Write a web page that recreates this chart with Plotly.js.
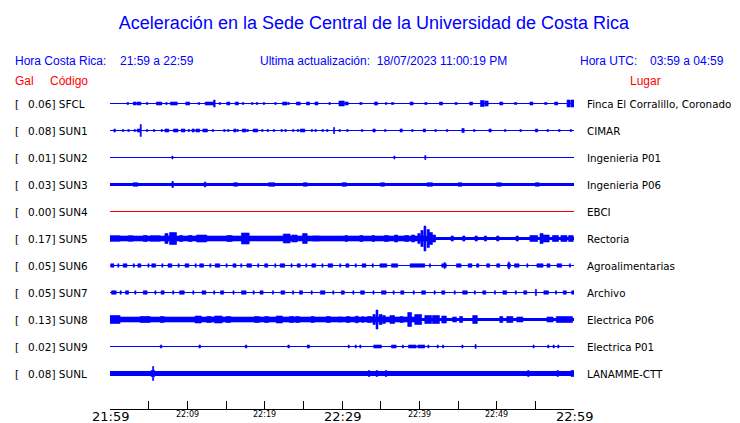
<!DOCTYPE html>
<html><head><meta charset="utf-8">
<script src="https://cdn.plot.ly/plotly-3.0.1.min.js"></script>
<style>html,body{margin:0;padding:0;background:#fff}#chart{width:740px;height:423px}</style>
</head><body><div id="chart"></div>
<script>
// ---------- data ----------
const codes  = ['SFCL','SUN1','SUN2','SUN3','SUN4','SUN5','SUN6','SUN7','SUN8','SUN9','SUNL'];
const gal    = ['0.06','0.08','0.01','0.03','0.00','0.17','0.05','0.05','0.13','0.02','0.08'];
const places = ['Finca El Corralillo, Coronado','CIMAR','Ingenieria P01','Ingenieria P06','EBCI','Rectoria',
                'Agroalimentarias','Archivo','Electrica P06','Electrica P01','LANAMME-CTT'];
// background noise half-amplitude of each trace (display units)
const noise  = [0.5,0.5,0.5,1.5,0.5,1.5,0.5,0.5,1.5,0.5,2.5];
// bursts: [minute after 21:59, half-amplitude, duration in minutes]
const bSFCL = [[2.2,1,0.2],[3.0,1.5,0.4],[3.5,1.5,0.5],[4.7,1,0.2],[6.0,1.5,0.7],[7.2,1,0.2],[7.8,1.5,0.9],[9.8,1.5,0.5],[11.4,1,0.2],[12.3,1.5,0.6],[12.9,1.5,0.5],[13.4,3.5,0.2],[14.1,1,0.2],[15.1,1.5,0.4],[16.2,1.5,0.4],[17.1,1,0.2],[18.3,1,0.2],[18.9,1,0.2],[19.8,1,0.2],[21.3,1,0.2],[22.3,1.5,0.6],[23.0,1,0.2],[24.1,1.5,0.5],[25.4,1.5,0.4],[26.5,1.5,0.4],[28.3,1,0.2],[29.6,2.5,0.7],[30.4,1.5,0.4],[32.3,1,0.3],[34.2,1.5,0.4],[35.6,1,0.2],[36.4,1,0.3],[38.8,1.5,0.4],[40.7,1,0.3],[42.6,1.5,0.4],[44.6,1,0.3],[46.5,1.5,0.4],[47.9,3,0.5],[48.5,2.5,0.4],[50.4,1.5,0.4],[52.3,1,0.3],[54.3,1.5,0.4],[56.2,1,0.3],[57.5,1.5,0.4],[59.1,3.5,0.4],[59.6,3.5,0.4]];
const bSUN1 = [[0.5,1.5,0.2],[1.6,1,0.2],[2.3,1,0.2],[3.1,1,0.2],[3.5,1.5,0.4],[3.9,6,0.15],[4.7,1,0.2],[5.6,1,0.2],[6.6,1,0.2],[7.1,1.5,0.5],[8.2,1.5,0.6],[9.2,1.5,0.5],[10.1,1,0.2],[10.6,1.5,0.3],[11.1,1.5,0.5],[12.0,1.5,0.6],[13.2,1,0.2],[14.7,1,0.2],[15.2,1,0.2],[16.0,1.5,0.3],[16.4,1,0.2],[17.1,1.5,0.5],[17.7,1,0.2],[18.5,1.5,0.6],[19.6,1,0.2],[20.3,1,0.2],[21.1,1,0.2],[22.1,1,0.2],[22.6,1,0.2],[23.6,1,0.2],[24.2,1,0.2],[24.6,1.5,0.6],[26.0,1,0.2],[26.5,1,0.2],[27.4,1,0.2],[28.0,1,0.2],[28.9,3,0.15],[29.6,1,0.2],[30.6,1,0.2],[32.5,1,0.2],[34.0,1.5,0.3],[35.5,1,0.2],[37.5,1.5,0.3],[39.0,1,0.2],[40.5,1.5,0.3],[42.0,1,0.2],[43.5,1,0.2],[45.5,2,0.3],[47.0,1,0.2],[49.0,1.5,0.3],[51.0,1,0.2],[53.0,1,0.2],[55.0,1.5,0.3],[56.5,1,0.2],[58.0,1,0.2],[59.5,1,0.2]];
const bSUN2 = [[8.0,1.5,0.15],[36.7,1.5,0.15],[40.7,2,0.15]];
const bSUN3 = [[3.0,1.8,0.6],[8.0,3,0.2],[12.2,2.5,0.2],[16.0,1.8,0.5],[20.5,1.8,0.8],[25.0,1.8,0.5],[30.0,1.8,0.6],[35.0,1.8,0.5],[41.0,1.8,0.7],[45.0,1.8,0.5],[50.0,1.8,0.6],[55.0,1.8,0.5]];
const bSUN4 = [];
const bSUN5 = [[0.0,2.5,42],[0.0,2.7,1.3],[2.3,2.7,0.7],[4.3,3,0.5],[5.2,2.7,1.3],[7.1,5,0.4],[7.7,6,0.9],[9.0,3,0.4],[10.1,3,0.5],[11.2,3.5,1.3],[15.1,3,0.7],[17.0,5.5,1.0],[22.4,4.5,0.9],[23.5,3.5,0.7],[24.9,5,0.6],[26.2,2.5,0.9],[30.4,3,0.3],[32.3,3,0.4],[33.9,3,0.3],[35.5,3,0.5],[36.8,3.5,0.4],[38.1,3,0.5],[39.0,3.5,0.4],[39.8,5,0.3],[40.2,8,0.3],[40.6,12.5,0.25],[41.0,9,0.3],[41.3,6,0.4],[41.7,3.5,0.4],[44.1,2.5,0.3],[45.6,2.5,0.3],[47.2,2.5,0.3],[48.4,2.5,0.3],[50.0,2.5,0.3],[52.5,2.5,0.3],[54.3,3,1.0],[55.6,5,0.4],[56.0,3.5,0.8],[57.2,3,0.8],[58.3,3,0.8],[59.3,3,0.6]];
const bSUN6 = [[0.1,1.7,0.4],[1.0,1.7,0.15],[1.7,1.7,0.5],[3.0,1.7,0.15],[3.6,1.7,0.4],[4.9,1.7,0.15],[5.4,1.7,0.5],[6.7,1.7,0.15],[7.5,1.7,0.5],[8.8,1.7,0.15],[9.7,1.7,0.5],[11.0,1.7,0.15],[11.6,1.7,0.5],[12.9,1.7,0.15],[13.6,1.7,0.6],[15.0,1.7,0.15],[15.9,1.7,0.4],[16.9,1.7,0.15],[17.7,1.7,0.6],[19.1,1.7,0.15],[20.0,1.7,0.4],[21.3,1.7,0.15],[22.0,1.7,0.6],[23.4,1.7,0.15],[24.2,1.7,0.4],[25.3,1.7,0.15],[26.1,1.7,0.5],[27.4,1.7,0.15],[28.2,1.7,0.6],[29.7,1.7,0.15],[30.5,1.7,0.4],[31.7,1.7,0.15],[32.6,1.7,0.5],[33.9,1.7,0.15],[34.9,1.7,0.9],[36.4,1.7,0.8],[38.8,1.7,1.9],[41.3,1.7,0.15],[42.9,1.7,0.6],[43.2,3,0.15],[44.8,1.7,0.6],[46.3,1.7,0.5],[47.4,1.7,0.3],[48.7,1.7,0.4],[50.0,1.7,0.4],[51.4,1.7,0.4],[51.5,3.5,0.15],[52.3,1.7,0.6],[53.9,1.7,0.15],[55.2,1.7,0.8],[56.5,1.7,0.4],[57.8,1.7,0.6],[59.4,1.7,0.15]];
const bSUN7 = [[0.2,1.7,0.6],[1.3,1.7,0.15],[2.0,1.7,0.4],[3.2,1.7,0.15],[4.3,1.7,0.5],[5.8,1.7,0.15],[6.6,1.7,0.4],[8.1,1.7,0.15],[9.0,1.7,0.6],[10.7,1.7,0.15],[11.9,1.7,0.5],[13.4,1.7,0.15],[14.3,1.7,0.4],[15.9,1.7,0.15],[17.0,1.7,0.6],[18.5,1.7,0.15],[19.4,1.7,0.4],[21.0,1.7,0.15],[22.1,1.7,0.5],[23.6,1.7,0.15],[24.5,1.7,0.4],[26.0,1.7,0.15],[27.2,1.7,0.6],[28.8,1.7,0.15],[29.9,1.7,0.4],[31.4,1.7,0.15],[32.4,1.7,0.5],[34.0,1.7,0.15],[35.1,1.7,0.6],[36.6,1.7,0.15],[37.6,1.7,0.4],[39.2,1.7,0.15],[40.3,1.7,0.5],[41.9,1.7,0.15],[42.9,1.7,0.4],[44.5,1.7,0.15],[45.6,1.7,0.6],[47.1,1.7,0.15],[48.2,1.7,0.4],[49.7,1.7,0.15],[50.8,1.7,0.5],[52.4,1.7,0.15],[53.5,1.7,0.4],[55.0,3,0.15],[56.1,1.7,0.6],[57.6,1.7,0.15],[58.6,1.7,0.4],[59.7,1.7,0.3]];
const bSUN8 = [[0.0,2.5,40],[0.0,4,1.3],[3.9,3,1.3],[6.5,3,0.5],[11.0,3.5,0.8],[12.5,3,0.6],[13.5,3.5,1.0],[15.0,3,0.6],[18.7,3,0.6],[20.0,3,0.5],[21.5,3.5,0.8],[23.2,3,0.6],[24.0,3,0.5],[26.0,3,0.4],[28.0,3,0.5],[29.5,2.5,0.4],[30.6,3,0.4],[31.7,3.3,0.4],[32.6,3,0.2],[33.3,3,0.5],[34.0,5,0.3],[34.4,9.5,0.25],[34.8,5,0.4],[35.3,4,0.3],[36.2,4,0.6],[37.5,3,0.4],[38.5,7,0.5],[39.4,5,0.9],[40.7,4,0.9],[41.7,4,0.9],[42.9,3.5,0.6],[44.3,2.5,0.5],[45.2,3,0.4],[46.9,4,0.6],[50.4,3,0.4],[51.3,3,0.8],[52.6,2.5,0.8],[56.5,2.5,0.8],[57.7,3,2.1]];
const bSUN9 = [[6.5,1.5,0.2],[11.5,1.5,0.2],[17.5,1.5,0.2],[23.0,1.5,0.2],[25.5,1.5,0.3],[30.8,1.5,0.15],[31.7,1.5,0.15],[32.3,1.5,0.15],[34.1,1.5,1.0],[36.4,1.5,0.6],[37.8,1.5,0.15],[38.6,1.5,1.0],[39.8,1.5,0.9],[41.1,1.5,0.15],[42.3,1.5,0.15],[43.0,1.5,0.15],[45.5,1.5,0.15],[47.2,2,0.15],[54.7,1.5,0.15],[56.6,1.5,0.15],[57.3,1.5,0.15],[57.9,1.5,0.15]];
const bSUNL = [[5.3,3,0.5],[5.5,7,0.15],[33.4,3,0.2],[34.4,3,0.2],[35.6,3,0.2],[54.0,3,0.2],[57.8,3,0.2],[59.6,3,0.4]];
const bursts = [bSFCL,bSUN1,bSUN2,bSUN3,bSUN4,bSUN5,bSUN6,bSUN7,bSUN8,bSUN9,bSUNL];

const tickMinutes = [0,5,10,15,20,25,30,35,40,45,50,55,60];
const tickLabels  = ['21:59','','22:09','','22:19','','22:29','','22:39','','22:49','','22:59'];

const title   = 'Aceleración en la Sede Central de la Universidad de Costa Rica';
const hdrLocal = ['Hora Costa Rica:', '21:59 a 22:59'];
const hdrUpd   = 'Ultima actualización:  18/07/2023 11:00:19 PM';
const hdrUTC   = ['Hora UTC:', '03:59 a 04:59'];
const colHeads = ['Gal', 'Código', 'Lugar'];

// ---------- layout helpers ----------
const W = 740, H = 423, L = 110, R = 574, T = 90, B = 409;
const SPACING = 27, TOP_ROW = 305.5;        // y units are pixel-sized
const BLUE = '#0000ff', RED = '#ff0000';
const px = x => (x - L) / (R - L);
const py = y => (B - y) / (B - T);

const traces = [];
codes.forEach((c, i) => {
  const off = TOP_ROW - SPACING * i;
  const col = c === 'SUN4' ? RED : BLUE;
  traces.push({x:[0,60], y:[off,off], mode:'lines', hoverinfo:'skip',
    line:{color:col, width:Math.max(1, 2*noise[i])}});
  const xs = [], ys = [];
  bursts[i].forEach(([t,a,d]) => {
    xs.push(t, t+d, t+d, t, t, null);
    ys.push(off-a, off-a, off+a, off+a, off-a, null);
  });
  if (xs.length) traces.push({x:xs, y:ys, mode:'lines', fill:'toself', fillcolor:col,
    hoverinfo:'skip', line:{color:col, width:0.6}});
});

const ann = [];
const txt = (text, x, y, size, color) => ann.push({
  text, x, y, xref:'paper', yref:'paper', showarrow:false, xanchor:'left', yanchor:'middle',
  font:{family:'Liberation Sans, Arial, sans-serif', size, color}});

txt(hdrLocal[0], px(13), py(61), 12, BLUE);
txt(hdrLocal[1], px(118), py(61), 12, BLUE);
txt(hdrUpd, px(258), py(61), 12, BLUE);
txt(hdrUTC[0], px(578), py(61), 12, BLUE);
txt(hdrUTC[1], px(648), py(61), 12, BLUE);
txt(colHeads[0], px(13), py(81), 12, RED);
txt(colHeads[1], px(48), py(81), 12, RED);
txt(colHeads[2], px(628), py(81), 12, RED);

codes.forEach((c, i) => {
  const off = TOP_ROW - SPACING * i;
  const base = {xref:'paper', yref:'y', y:off, showarrow:false, xanchor:'left', yanchor:'middle'};
  ann.push(Object.assign({text:'[', x:px(13), font:{family:'DejaVu Sans', size:10.5, color:'#000'}}, base));
  ann.push(Object.assign({text:gal[i] + '] ' + c, x:px(26), font:{family:'DejaVu Sans', size:10.5, color:'#000'}}, base));
  ann.push(Object.assign({text:places[i], x:px(585), font:{family:'DejaVu Sans', size:10.3, color:'#000'}}, base));
});

tickMinutes.forEach((m, k) => {
  if (!tickLabels[k]) return;
  const big = (m % 30) === 0;
  ann.push({text:tickLabels[k], x:m, y:py(big ? 416 : 414.5), xref:'x', yref:'paper', showarrow:false,
    xanchor:'center', yanchor:'middle', font:{family:'DejaVu Sans', size: big ? 13 : 8, color:'#000'}});
});

const layout = {
  width:W, height:H, margin:{l:L, r:W-R, t:T, b:H-B, pad:0},
  paper_bgcolor:'#fff', plot_bgcolor:'#fff', showlegend:false,
  title:{text:title, x:374/W, xref:'container', xanchor:'center', y:1-23/H, yref:'container', yanchor:'middle',
    font:{family:'Liberation Sans, Arial, sans-serif', size:18, color:BLUE}},
  xaxis:{range:[0,60], showgrid:false, zeroline:false, showline:true, linecolor:'#000', linewidth:1,
    ticks:'inside', ticklen:8, tickwidth:1, tickcolor:'#000', tickvals:tickMinutes, showticklabels:false, fixedrange:true},
  yaxis:{range:[0,B-T], visible:false, fixedrange:true},
  annotations:ann
};
Plotly.newPlot('chart', traces, layout, {staticPlot:true, displayModeBar:false});
</script></body></html>
